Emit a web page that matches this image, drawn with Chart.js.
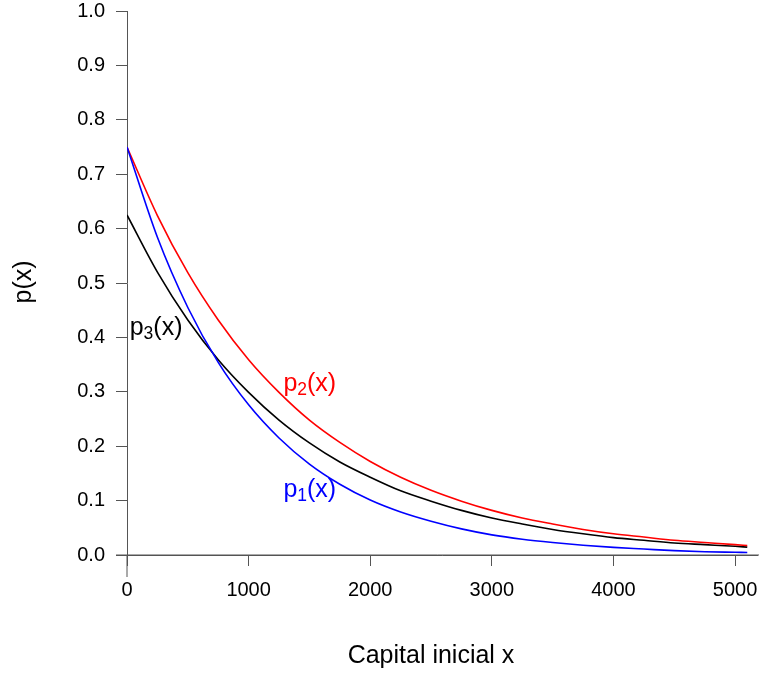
<!DOCTYPE html>
<html>
<head>
<meta charset="utf-8">
<script src="https://cdn.jsdelivr.net/npm/chart.js@4/dist/chart.umd.min.js"></script>
<style>
  html, body { margin: 0; padding: 0; background: #fff; }
  #wrap { width: 759px; height: 673px; }
</style>
</head>
<body>
<div id="wrap"><canvas id="ruinChart" width="759" height="673"></canvas></div>
<script>
const xValues = [0, 250, 500, 750, 1000, 1250, 1500, 1750, 2000, 2250, 2500,
                 2750, 3000, 3250, 3500, 3750, 4000, 4250, 4500, 4750, 5000, 5100];

// p1(x) - blue
const p1Values = [0.750, 0.584, 0.455, 0.354, 0.276, 0.215, 0.167, 0.130, 0.101, 0.079, 0.062,
                  0.048, 0.037, 0.029, 0.023, 0.018, 0.014, 0.011, 0.008, 0.006, 0.005, 0.0046];
// p2(x) - red
const p2Values = [0.750, 0.624, 0.519, 0.432, 0.359, 0.299, 0.248, 0.207, 0.172, 0.143, 0.119,
                  0.099, 0.082, 0.068, 0.057, 0.047, 0.039, 0.033, 0.027, 0.023, 0.019, 0.0175];
// p3(x) - black
const p3Values = [0.625, 0.520, 0.432, 0.359, 0.299, 0.248, 0.206, 0.171, 0.143, 0.118, 0.099,
                  0.082, 0.068, 0.057, 0.047, 0.039, 0.032, 0.027, 0.022, 0.019, 0.016, 0.0144];

const xTicks = [0, 1000, 2000, 3000, 4000, 5000];
const yTicks = [0, 0.1, 0.2, 0.3, 0.4, 0.5, 0.6, 0.7, 0.8, 0.9, 1.0];

// curve labels: [main, subscript, rest, x, y (baseline), colour]
const curveLabels = [
    ['p', '1', '(x)', 1286, 0.106, '#0000FF'],
    ['p', '2', '(x)', 1286, 0.301, '#FF0000'],
    ['p', '3', '(x)', 22, 0.404, '#000000']
];

const FONT = "'Liberation Sans', Arial, Helvetica, sans-serif";
const AXIS_COLOR = '#555';

const toPoints = (ys) => xValues.map((x, i) => ({ x: x, y: ys[i] }));

// axis extensions, titles and curve labels
const extrasPlugin = {
    id: 'extras',
    afterDraw(chart) {
        const ctx = chart.ctx;
        const xs = chart.scales.x, ys = chart.scales.y;
        const x0 = xs.getPixelForValue(0), y0 = ys.getPixelForValue(0);

        ctx.save();
        ctx.strokeStyle = AXIS_COLOR;
        ctx.lineWidth = 1;
        ctx.beginPath();
        ctx.moveTo(x0 - 11, y0);
        ctx.lineTo(chart.width, y0);
        ctx.moveTo(x0, y0);
        ctx.lineTo(x0, y0 + 22);
        ctx.stroke();

        // axis titles
        ctx.fillStyle = '#000';
        ctx.font = '25px ' + FONT;
        ctx.textAlign = 'center';
        ctx.textBaseline = 'alphabetic';
        ctx.fillText('Capital inicial x', 431, 663);
        ctx.translate(31, 282);
        ctx.rotate(-Math.PI / 2);
        ctx.fillText('p(x)', 0, 0);
        ctx.restore();

        // curve labels with subscripts
        ctx.save();
        ctx.textAlign = 'left';
        ctx.textBaseline = 'alphabetic';
        curveLabels.forEach(([main, sub, rest, lx, ly, color]) => {
            let px = xs.getPixelForValue(lx);
            const py = ys.getPixelForValue(ly);
            ctx.fillStyle = color;
            ctx.font = '25px ' + FONT;
            ctx.fillText(main, px, py);
            px += ctx.measureText(main).width;
            ctx.font = '17.5px ' + FONT;
            ctx.fillText(sub, px, py + 3.5);
            px += ctx.measureText(sub).width;
            ctx.font = '25px ' + FONT;
            ctx.fillText(rest, px, py);
        });
        ctx.restore();
    }
};

const lineStyle = (color) => ({
    borderColor: color,
    backgroundColor: color,
    borderWidth: 1.6,
    pointRadius: 0,
    showLine: true,
    fill: false,
    cubicInterpolationMode: 'monotone'
});

new Chart(document.getElementById('ruinChart').getContext('2d'), {
    type: 'scatter',
    data: {
        datasets: [
            { label: 'p1(x)', data: toPoints(p1Values), ...lineStyle('#0000FF') },
            { label: 'p2(x)', data: toPoints(p2Values), ...lineStyle('#FF0000') },
            { label: 'p3(x)', data: toPoints(p3Values), ...lineStyle('#000000') }
        ]
    },
    options: {
        responsive: false,
        animation: false,
        devicePixelRatio: 1,
        layout: { padding: { top: 11, right: 2, left: 0, bottom: 0 } },
        plugins: {
            legend: { display: false },
            tooltip: { enabled: false }
        },
        scales: {
            x: {
                type: 'linear',
                min: 0,
                max: 5180,
                afterBuildTicks: (scale) => { scale.ticks = xTicks.map(v => ({ value: v })); },
                afterFit: (scale) => {
                    scale.height = 118;
                    scale.paddingLeft = 0;
                    scale.paddingRight = 0;
                },
                border: { display: true, color: AXIS_COLOR, width: 1 },
                grid: { display: true, drawOnChartArea: false, drawTicks: true, tickLength: 11, color: AXIS_COLOR },
                ticks: {
                    color: '#000',
                    font: { family: FONT, size: 20 },
                    padding: 12,
                    maxRotation: 0,
                    callback: (v) => String(v)
                }
            },
            y: {
                type: 'linear',
                min: 0,
                max: 1,
                afterBuildTicks: (scale) => { scale.ticks = yTicks.map(v => ({ value: v })); },
                afterFit: (scale) => {
                    scale.width = 127;
                    scale.paddingTop = 0;
                    scale.paddingBottom = 0;
                },
                border: { display: true, color: AXIS_COLOR, width: 1 },
                grid: { display: true, drawOnChartArea: false, drawTicks: true, tickLength: 11, color: AXIS_COLOR },
                ticks: {
                    color: '#000',
                    font: { family: FONT, size: 20 },
                    padding: 11,
                    callback: (v) => v.toFixed(1)
                }
            }
        }
    },
    plugins: [extrasPlugin]
});
</script>
</body>
</html>
